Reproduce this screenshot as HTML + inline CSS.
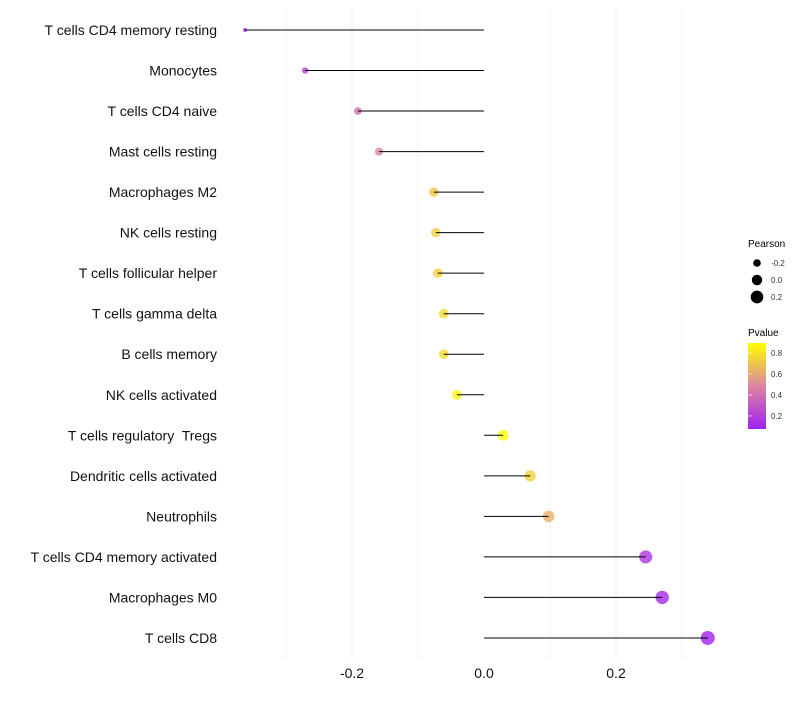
<!DOCTYPE html>
<html><head><meta charset="utf-8"><style>
body{margin:0;background:#fff;font-family:"Liberation Sans",sans-serif}
text{white-space:pre}
</style></head><body>
<svg id="c" width="800" height="700" xmlns="http://www.w3.org/2000/svg" font-family="Liberation Sans, sans-serif">
<g id="grid"></g><g id="marks"></g><g id="labels"></g><g id="xt"></g>
<g>
<text x="748" y="247" font-size="10" fill="#000">Pearson</text>
<g id="sizeleg"></g>
<text x="748" y="336" font-size="10" fill="#000">Pvalue</text>
<defs><linearGradient id="pg" x1="0" y1="0" x2="0" y2="1">
<stop offset="0" stop-color="#ffff00"/><stop offset="0.5" stop-color="#db86a0"/><stop offset="1" stop-color="#a020f0"/></linearGradient></defs>
<rect x="748" y="343" width="18" height="86" fill="url(#pg)"/>
<g id="colleg"></g>
</g>
</svg>
<script>
const categories=["T cells CD4 memory resting","Monocytes","T cells CD4 naive","Mast cells resting","Macrophages M2","NK cells resting","T cells follicular helper","T cells gamma delta","B cells memory","NK cells activated","T cells regulatory  Tregs","Dendritic cells activated","Neutrophils","T cells CD4 memory activated","Macrophages M0","T cells CD8"];
const pearson=[-0.362,-0.271,-0.191,-0.159,-0.076,-0.073,-0.070,-0.061,-0.061,-0.041,0.029,0.070,0.098,0.245,0.270,0.339];
const pvalue=[0.08,0.2,0.4,0.48,0.72,0.73,0.74,0.77,0.77,0.88,0.92,0.74,0.64,0.16,0.12,0.08];
const xTicks=[-0.2,0,0.2];
const xTickLabels=["-0.2","0.0","0.2"];
const gridVals=[-0.3,-0.2,-0.1,0.1,0.2,0.3];
const sizeLegVals=[-0.2,0,0.2];
const colLegVals=[0.8,0.6,0.4,0.2];
const NS="http://www.w3.org/2000/svg";
const xs=v=>484+660*v;
const ys=i=>30+i*40.53;
const rs=v=>Math.sqrt(Math.max(1,4+64.3*(v+0.362)));
function mix(a,b,t){return a.map((x,i)=>Math.round(x+(b[i]-x)*t));}
function col(p){const t=Math.min(1,Math.max(0,(p-0.086)/(0.895-0.086)));
 const P=[160,32,240],M=[219,134,160],Y=[255,255,0];
 const c=t<0.5?mix(P,M,t/0.5):mix(M,Y,(t-0.5)/0.5);return `rgb(${c})`;}
function mk(tag,at,parent){const e=document.createElementNS(NS,tag);for(const k in at)e.setAttribute(k,at[k]);document.getElementById(parent).appendChild(e);return e;}
gridVals.forEach(v=>{const l=mk('line',{x1:xs(v),x2:xs(v),y1:8,y2:660,stroke:'#f0f0f0','stroke-width':1},'grid');

});
categories.forEach((c,i)=>{
 const y=ys(i);
 const p=mk('circle',{cx:xs(pearson[i]),cy:y,r:rs(pearson[i]),fill:col(pvalue[i]),'fill-opacity':0.8},'marks');
 
 
 const l=mk('line',{x1:xs(0),x2:xs(pearson[i]),y1:y,y2:y,stroke:'#000','stroke-width':1},'marks');
 
 
 const t=mk('text',{x:217,y:y+5,'text-anchor':'end','font-size':14,fill:'#111'},'labels');
 t.textContent=c;
 
 
});
xTicks.forEach((v,i)=>{const t=mk('text',{x:xs(v),y:678,'text-anchor':'middle','font-size':14,fill:'#111'},'xt');
t.textContent=xTickLabels[i];

});
sizeLegVals.forEach((v,i)=>{const y=263+i*17;
 const c=mk('circle',{cx:757,cy:y,r:rs(v),fill:'#000'},'sizeleg');
 
 
 const t=mk('text',{x:771,y:y+3,'font-size':8,fill:'#333'},'sizeleg');t.textContent=(v===0?'0.0':String(v));
 
 });
colLegVals.forEach(v=>{const y=343+(0.895-v)/0.1*10.5;
 const l=mk('line',{x1:748,x2:752,y1:y,y2:y,stroke:'#fff','stroke-width':0.6},'colleg');
 
 
 const t=mk('text',{x:771,y:y+3,'font-size':8,fill:'#333'},'colleg');t.textContent=String(v);
 
 });
</script>
</body></html>
